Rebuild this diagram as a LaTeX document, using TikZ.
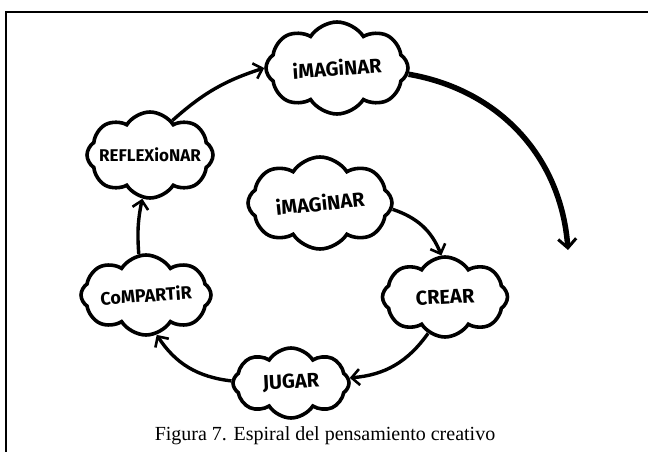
\documentclass[tikz,border=0pt]{standalone}
\usepackage{fontspec}
\setmainfont{Liberation Serif}
\newfontfamily\handfont{Fira Sans}
\usetikzlibrary{shapes.symbols,arrows.meta}
\tikzset{
  cloudbox/.style={cloud, cloud puffs=8, cloud puff arc=115, cloud ignores aspect, draw=black, line width=3.6pt, fill=white, inner sep=0pt},
  lbl/.style={font=\handfont\bfseries\fontsize{20}{22}\selectfont, inner sep=0pt},
  arr/.style={line width=3.4pt, -{Straight Barb[length=8pt,width=16pt,line width=2.6pt]}},
  bigarr/.style={line width=5.5pt, -{Straight Barb[length=9pt,width=18pt,line width=3pt]}},
  frame/.style={line width=2pt}
}
\begin{document}
\begin{tikzpicture}[x=1pt,y=-1pt]
\useasboundingbox (0,0) rectangle (648,452);
\draw[frame] (6,460) -- (6,12) -- (660,12);
% clouds
\node[cloudbox, minimum width=142pt, minimum height=92pt] (top) at (337,68) {};
\node[cloudbox, minimum width=126pt, minimum height=86pt] (reflex) at (150,155) {};
\node[cloudbox, minimum width=144pt, minimum height=92pt] (inner) at (320,203) {};
\node[cloudbox, minimum width=125pt, minimum height=80pt] (crear) at (445,297) {};
\node[cloudbox, minimum width=130pt, minimum height=80pt] (comp) at (146,295) {};
\node[cloudbox, minimum width=116pt, minimum height=70pt] (jugar) at (291,383) {};
% labels
\node[lbl, rotate=4] (ltop) at (top) {iMAGiNAR};
\node[lbl, font=\handfont\bfseries\fontsize{17}{20}\selectfont] (lreflex) at (reflex) {REFLEXioNAR};
\node[lbl, rotate=6] (linner) at (inner) {iMAGiNAR};
\node[lbl, rotate=3] (lcrear) at (crear) {CREAR};
\node[lbl, rotate=4, font=\handfont\bfseries\fontsize{18}{20}\selectfont] (lcomp) at (comp) {CoMPARTiR};
\node[lbl, rotate=3] (ljugar) at (jugar) {JUGAR};
% connectors
\coordinate (bigend) at (568,250);
\draw[arr] (reflex.57) to[bend left=12] (top.west);
\draw[bigarr] (top.-5) to[bend left=38] (bigend);
\draw[arr] (comp.100) to[bend left=8] (reflex.-100);
\draw[arr] (inner.-5) to[bend left=25] (crear.95);
\draw[arr] (crear.-115) to[bend left=25] (jugar.5);
\draw[arr] (jugar.178) to[bend left=25] (comp.-75);
% caption
\node[font=\fontsize{20}{24}\selectfont, anchor=base] (cap) at (325,440) {Figura 7. Espiral del pensamiento creativo};
\end{tikzpicture}
\end{document}
